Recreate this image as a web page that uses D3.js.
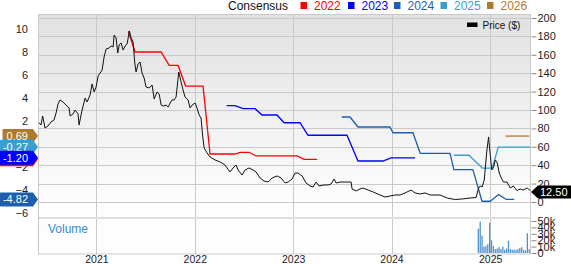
<!DOCTYPE html>
<html>
<head>
<meta charset="utf-8">
<script src="https://cdn.jsdelivr.net/npm/d3@7"></script>
<style>
  body { margin: 0; background: #fff; }
  svg { display: block; font-family: Arial, "Liberation Sans", sans-serif; }
</style>
</head>
<body>
<svg id="chart" width="571" height="264"></svg>
<script>
// ===========================
// 1. Data
// ===========================
const yearTicks = [2021, 2022, 2023, 2024, 2025];
const priceTicks = [0, 20, 40, 60, 80, 100, 120, 140, 160, 180, 200];
const epsTicks = [-6, -4, -2, 0, 2, 4, 6, 8, 10];
const volTicks = [0, 10000, 20000, 30000, 40000, 50000];
const volTickLabels = ["0", "10k", "20k", "30k", "40k", "50k"];

// price, [decimal year, $]
const priceSeries = [
  [2020.418, 86.2], [2020.438, 83.7], [2020.455, 93.5], [2020.479, 80.4], [2020.509, 82.6],
  [2020.540, 87.0], [2020.570, 89.1], [2020.591, 96.7], [2020.611, 106.5], [2020.631, 110.9],
  [2020.662, 108.7], [2020.692, 105.4], [2020.723, 102.2], [2020.733, 93.5], [2020.763, 95.7],
  [2020.784, 100], [2020.814, 95.7], [2020.824, 83.7], [2020.855, 100], [2020.885, 113],
  [2020.905, 108.7], [2020.936, 116.3], [2020.956, 128.3], [2020.977, 119.6], [2020.997, 125],
  [2021.017, 137], [2021.038, 140.2], [2021.058, 143.5], [2021.078, 157.6], [2021.099, 166.3],
  [2021.129, 167.4], [2021.149, 169.6], [2021.170, 168.5], [2021.180, 181.5], [2021.200, 178.3],
  [2021.217, 162], [2021.231, 170.7], [2021.251, 172.8], [2021.271, 165.2], [2021.292, 169.6],
  [2021.312, 171.7], [2021.335, 185.9], [2021.353, 178.3], [2021.373, 173.9], [2021.390, 151.1],
  [2021.403, 141.3], [2021.424, 150], [2021.444, 152.2], [2021.464, 140.2], [2021.485, 134.8],
  [2021.505, 125], [2021.536, 123.9], [2021.566, 127.2], [2021.587, 112], [2021.617, 119.6],
  [2021.638, 117.4], [2021.658, 105.4], [2021.678, 104.3], [2021.709, 105.4], [2021.729, 103.3],
  [2021.750, 107.6], [2021.769, 110.9], [2021.790, 110.9], [2021.810, 114.1], [2021.837, 141.3],
  [2021.861, 130.4], [2021.881, 121.7], [2021.901, 114.1], [2021.932, 110.9], [2021.952, 102.2],
  [2021.973, 105.4], [2022.003, 107.6], [2022.023, 102.2], [2022.044, 94.6], [2022.064, 91.3],
  [2022.079, 72.8], [2022.095, 58.7], [2022.125, 53.3], [2022.155, 48.9], [2022.206, 45.7],
  [2022.257, 43.5], [2022.307, 40.2], [2022.358, 32.6], [2022.389, 37], [2022.419, 40.2],
  [2022.440, 34.8], [2022.480, 29.3], [2022.511, 34.8], [2022.552, 37], [2022.592, 34.8],
  [2022.623, 32.6], [2022.664, 26.1], [2022.704, 22.8], [2022.745, 21.7], [2022.786, 26.1],
  [2022.837, 28.3], [2022.877, 26.1], [2022.918, 20.7], [2022.949, 21.7], [2022.989, 25],
  [2023.019, 31.5], [2023.050, 31.5], [2023.091, 28.3], [2023.131, 20.7], [2023.172, 17.4],
  [2023.202, 16.3], [2023.233, 21.7], [2023.263, 17.4], [2023.314, 18.5], [2023.355, 18.5],
  [2023.386, 19.6], [2023.416, 25], [2023.436, 20.7], [2023.477, 21.7], [2023.528, 21.7],
  [2023.589, 21.7], [2023.599, 14.1], [2023.640, 12], [2023.680, 14.1], [2023.711, 15.2],
  [2023.762, 13], [2023.813, 10.9], [2023.884, 7.6], [2023.934, 5.4], [2023.985, 6.5],
  [2024.036, 7.6], [2024.086, 7.6], [2024.137, 9.8], [2024.198, 13], [2024.239, 9.8],
  [2024.290, 8.7], [2024.341, 9.8], [2024.392, 7.6], [2024.493, 7.6], [2024.564, 4.3],
  [2024.645, 2.7], [2024.716, 3.3], [2024.797, 4.3], [2024.858, 4.9], [2024.879, 14.1],
  [2024.899, 17.4], [2024.919, 16.3], [2024.940, 23.9], [2024.965, 54.3], [2024.984, 70.7],
  [2025.001, 51], [2025.016, 34.8], [2025.032, 37], [2025.052, 45.7], [2025.072, 42.4],
  [2025.092, 31.5], [2025.113, 26.1], [2025.136, 21.7], [2025.171, 21.7], [2025.204, 15.2],
  [2025.235, 17.4], [2025.272, 12.5], [2025.306, 14.1], [2025.336, 13], [2025.377, 15.2],
  [2025.407, 12.5]
];
const lastPrice = 12.50;

// consensus EPS lines, [decimal year, EPS]
const eps2022 = [
  [2021.325, 9.8], [2021.393, 8.0], [2021.658, 8.0], [2021.739, 6.83], [2021.830, 6.83],
  [2021.907, 5.04], [2022.084, 5.04], [2022.155, -0.87], [2022.409, -0.87], [2022.460, -0.72],
  [2022.552, -0.72], [2022.623, -1.04], [2023.040, -1.04], [2023.111, -1.33], [2023.243, -1.33]
];
const eps2023 = [
  [2022.325, 3.33], [2022.410, 3.33], [2022.491, 3.07], [2022.613, 3.07], [2022.684, 2.52],
  [2022.836, 2.52], [2022.908, 1.85], [2023.070, 1.85], [2023.151, 0.76], [2023.547, 0.76],
  [2023.659, -1.48], [2023.913, -1.48], [2023.994, -1.20], [2024.238, -1.20]
];
const eps2024 = [
  [2023.494, 2.35], [2023.578, 2.35], [2023.659, 1.48], [2023.984, 1.48], [2024.015, 0.98],
  [2024.217, 0.98], [2024.291, -0.81], [2024.593, -0.81], [2024.632, -2.23], [2024.825, -2.23],
  [2024.917, -4.98], [2025.001, -4.98], [2025.085, -4.40], [2025.164, -4.82], [2025.245, -4.82]
];
const eps2025 = [
  [2024.632, -0.98], [2024.785, -0.98], [2024.920, -2.09], [2025.022, -2.09], [2025.082, -0.27],
  [2025.407, -0.27]
];
const eps2026 = [
  [2025.156, 0.69], [2025.397, 0.69]
];

const consensusNames = ["2022", "2023", "2024", "2025", "2026"];
const consensusColors = ["#ff0000", "#0000ff", "#1d5fae", "#3a9fd0", "#b07a2c"];
const consensusSeries = [eps2022, eps2023, eps2024, eps2025, eps2026];
const badgeLabels = ["-1.33", "-1.20", "-4.82", "-0.27", "0.69"];
const badgeOrder = [4, 3, 0, 1, 2]; // drawing order, later on top

// weekly volume from 2024-11-18
const volumeStart = "2024-11-18";
const volumeWeekly = [38000, 49000, 27000, 10000, 11000, 14000, 47000, 20000, 11000, 6000,
  7000, 9000, 6000, 10000, 5000, 7000, 19000, 6000, 5000, 5000,
  5000, 6000, 8000, 9000, 5000, 4000, 31000, 6000];

// ===========================
// 2. Layout and scales
// ===========================
const plotLeft = 39, plotRight = 530.5, plotTop = 14;
const priceBottom = 217, volTop = 219, volBottom = 254;

const toDate = t => {
  const y = Math.floor(t);
  const s = Date.UTC(y, 0, 1), e = Date.UTC(y + 1, 0, 1);
  return new Date(s + (t - y) * (e - s));
};

const x = d3.scaleUtc()
  .domain([toDate(2020.418), toDate(2025.41)])
  .range([plotLeft, plotRight]);
const yPrice = d3.scaleLinear().domain([0, 200]).range([202, 18]);
const yEps = d3.scaleLinear().domain([-6, 10]).range([213, 29]);
const yVol = d3.scaleLinear().domain([0, 50000]).range([253, 221]);

const svg = d3.select("#chart");

const defs = svg.append("defs");
const grad = defs.append("linearGradient")
  .attr("id", "bg").attr("x1", 0).attr("y1", 0).attr("x2", 0).attr("y2", 1);
grad.append("stop").attr("offset", "0%").attr("stop-color", "#e1e1e1");
grad.append("stop").attr("offset", "100%").attr("stop-color", "#ffffff");

// panels
svg.append("rect")
  .attr("x", plotLeft).attr("y", plotTop)
  .attr("width", plotRight - plotLeft).attr("height", priceBottom - plotTop)
  .attr("fill", "url(#bg)");
svg.append("rect")
  .attr("x", plotLeft).attr("y", volTop)
  .attr("width", plotRight - plotLeft).attr("height", volBottom - volTop)
  .attr("fill", "#fdfdfd");

// horizontal gridlines (price)
svg.append("g").selectAll("line")
  .data(priceTicks)
  .join("line")
  .attr("x1", plotLeft).attr("x2", plotRight)
  .attr("y1", d => Math.round(yPrice(d)) + 0.5)
  .attr("y2", d => Math.round(yPrice(d)) + 0.5)
  .attr("stroke", "#c9c9c9");

// vertical gridlines (years)
svg.append("g").selectAll("line")
  .data(yearTicks)
  .join("line")
  .attr("x1", d => Math.round(x(toDate(d))) + 0.5)
  .attr("x2", d => Math.round(x(toDate(d))) + 0.5)
  .attr("y1", plotTop).attr("y2", volBottom)
  .attr("stroke", "#c9c9c9");

// borders
svg.append("rect")
  .attr("x", plotLeft - 0.5).attr("y", plotTop + 0.5)
  .attr("width", plotRight - plotLeft + 0.5).attr("height", volBottom - plotTop - 0.5)
  .attr("fill", "none").attr("stroke", "#c9c9c9");
svg.append("rect")
  .attr("x", plotLeft).attr("y", priceBottom)
  .attr("width", plotRight - plotLeft).attr("height", volTop - priceBottom)
  .attr("fill", "#dedede");

// ===========================
// 3. Volume bars
// ===========================
const volStart = new Date(volumeStart + "T00:00:00Z");
svg.append("g").selectAll("rect")
  .data(volumeWeekly)
  .join("rect")
  .attr("x", (d, i) => x(d3.utcWeek.offset(volStart, i)) - 0.65)
  .attr("width", 1.3)
  .attr("y", d => yVol(d))
  .attr("height", d => yVol(0) - yVol(d))
  .attr("fill", "#4f93d3");

svg.append("text")
  .attr("x", 48).attr("y", 233)
  .attr("fill", "#3a8ccc")
  .style("font-size", "12px")
  .text("Volume");

// ===========================
// 4. Consensus lines and price
// ===========================
const epsLine = d3.line()
  .x(d => x(toDate(d[0])))
  .y(d => yEps(d[1]));

consensusSeries.forEach((s, i) => {
  svg.append("path")
    .datum(s)
    .attr("d", epsLine)
    .attr("fill", "none")
    .attr("stroke", consensusColors[i])
    .attr("stroke-width", 1.3);
});

const priceLine = d3.line()
  .x(d => x(toDate(d[0])))
  .y(d => yPrice(d[1]));

svg.append("path")
  .datum(priceSeries)
  .attr("d", priceLine)
  .attr("fill", "none")
  .attr("stroke", "#111")
  .attr("stroke-width", 1);

// ===========================
// 5. Axes
// ===========================
const rightAxis = svg.append("g")
  .attr("transform", `translate(${plotRight + 1},0)`)
  .call(d3.axisRight(yPrice).tickValues(priceTicks).tickSize(5).tickPadding(1));
const volAxis = svg.append("g")
  .attr("transform", `translate(${plotRight + 1},0)`)
  .call(d3.axisRight(yVol).tickValues(volTicks).tickSize(5).tickPadding(1)
    .tickFormat((d, i) => volTickLabels[i]));
const leftAxis = svg.append("g")
  .attr("transform", `translate(${plotLeft - 2},0)`)
  .call(d3.axisLeft(yEps).tickValues(epsTicks).tickSize(0).tickPadding(9));
const bottomAxis = svg.append("g")
  .attr("transform", `translate(0,${volBottom})`)
  .call(d3.axisBottom(x).tickValues(yearTicks.map(toDate)).tickSize(0)
    .tickFormat(d3.utcFormat("%Y")));

[rightAxis, volAxis, leftAxis, bottomAxis].forEach(g => {
  g.select(".domain").remove();
  g.selectAll(".tick line").attr("stroke", "#888");
  g.selectAll("text").attr("fill", "#222").style("font-size", "11px")
    .style("font-family", "Arial, 'Liberation Sans', sans-serif");
});
bottomAxis.selectAll("text")
  .style("font-size", "10.5px")
  .attr("y", 8.8)
  .attr("dy", null);

// ===========================
// 6. Badges
// ===========================
badgeOrder.forEach(i => {
  const s = consensusSeries[i];
  const cy = yEps(s[s.length - 1][1]);
  const g = svg.append("g");
  const txt = g.append("text")
    .attr("x", 28).attr("y", cy + 4)
    .attr("text-anchor", "end")
    .attr("fill", "#fff")
    .style("font-size", "11px")
    .text(badgeLabels[i]);
  const w = txt.node().getComputedTextLength();
  const x0 = Math.max(0, 28 - w - 4), h = 7;
  g.insert("path", "text")
    .attr("d", `M${x0},${cy - h}H33L38,${cy}L33,${cy + h}H${x0}Z`)
    .attr("fill", consensusColors[i]);
});

// last price badge
const py = yPrice(lastPrice) + 1.5;
svg.append("path")
  .attr("d", `M531,${py}L538,${py - 6.5}H571V${py + 6.5}H538Z`)
  .attr("fill", "#000");
svg.append("text")
  .attr("x", 540).attr("y", py + 4)
  .attr("fill", "#fff")
  .style("font-size", "11px")
  .text(lastPrice.toFixed(2));

// ===========================
// 7. Legends
// ===========================
svg.append("text")
  .attr("x", 228).attr("y", 10)
  .attr("fill", "#111")
  .style("font-size", "12px")
  .text("Consensus");

const legendX = [300.5, 348, 394, 440.5, 487];
consensusNames.forEach((name, i) => {
  svg.append("rect")
    .attr("x", legendX[i]).attr("y", 2)
    .attr("width", 6.5).attr("height", 7)
    .attr("fill", consensusColors[i]);
  svg.append("text")
    .attr("x", legendX[i] + 13.5).attr("y", 10)
    .attr("fill", consensusColors[i])
    .style("font-size", "12px")
    .text(name);
});

svg.append("rect")
  .attr("x", 467).attr("y", 22.5)
  .attr("width", 10.5).attr("height", 4.5)
  .attr("fill", "#000");
svg.append("text")
  .attr("x", 482.5).attr("y", 29)
  .attr("fill", "#111")
  .style("font-size", "10px")
  .text("Price ($)");
</script>
</body>
</html>
